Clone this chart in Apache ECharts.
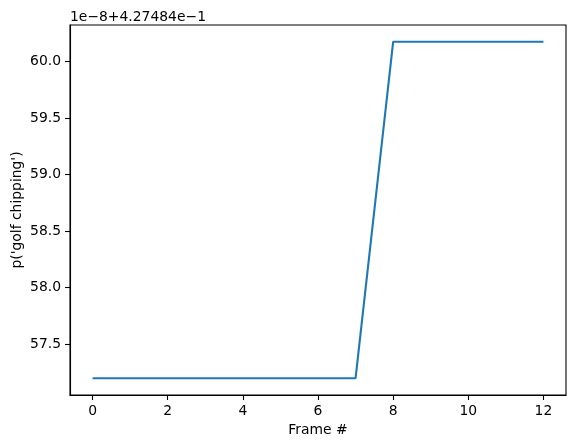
<!DOCTYPE html>
<html><head><meta charset="utf-8">
<script src="https://cdn.jsdelivr.net/npm/echarts@6/dist/echarts.min.js"></script>
<style>html,body{margin:0;padding:0;background:#fff}#c{width:576px;height:448px}</style>
</head><body><div id="c"></div>
<script>
const frames = [0,1,2,3,4,5,6,7,8,9,10,11,12];
const probs = [57.197,57.197,57.197,57.197,57.197,57.197,57.197,57.197,60.176,60.176,60.176,60.176,60.176];
const xTicks = [0,2,4,6,8,10,12];
const yTicks = [57.5,58.0,58.5,59.0,59.5,60.0];
const offsetText = '1e\u22128+4.27484e\u22121';
const yName = "p('golf chipping')";
const xName = 'Frame #';

const F = 'DejaVu Sans';
const chart = echarts.init(document.getElementById('c'));
chart.setOption({
  animation: false,
  grid: {left: 70, right: 10, top: 25, bottom: 53, show: true, borderColor: '#000', borderWidth: 1.1, backgroundColor: 'transparent'},
  xAxis: {
    type: 'value', min: -0.6, max: 12.6,
    axisLine: {show: true, onZero: false, lineStyle: {color: '#000', width: 1.1}},
    axisTick: {show: true, inside: false, length: 5, lineStyle: {color: '#000', width: 1.1}, customValues: xTicks},
    axisLabel: {customValues: xTicks, color: '#000', fontFamily: F, fontSize: 13.9, margin: 9, formatter: v => String(v)},
    splitLine: {show: false}
  },
  yAxis: {
    type: 'value', min: 57.048, max: 60.325,
    axisLine: {show: true, onZero: false, lineStyle: {color: '#000', width: 1.1}},
    axisTick: {show: true, inside: false, length: 5, lineStyle: {color: '#000', width: 1.1}, customValues: yTicks},
    axisLabel: {customValues: yTicks, color: '#000', fontFamily: F, fontSize: 13.9, margin: 9, formatter: v => v.toFixed(1)},
    splitLine: {show: false}
  },
  graphic: [
    {type: 'text', left: 70, top: 10, style: {text: offsetText, fill: '#000', font: '13.9px "DejaVu Sans"'}},
    {type: 'text', x: 10, y: 210, rotation: Math.PI/2, style: {text: yName, fill: '#000', font: '13.9px "DejaVu Sans"', align: 'center', verticalAlign: 'top'}},
    {type: 'text', x: 318, y: 423, style: {text: xName, fill: '#000', font: '13.9px "DejaVu Sans"', align: 'center', verticalAlign: 'top'}}
  ],
  series: [{
    type: 'line', data: frames.map((f, i) => [f, probs[i]]),
    showSymbol: false, symbol: 'none',
    lineStyle: {color: '#1f77b4', width: 2.1}
  }]
});
</script></body></html>
